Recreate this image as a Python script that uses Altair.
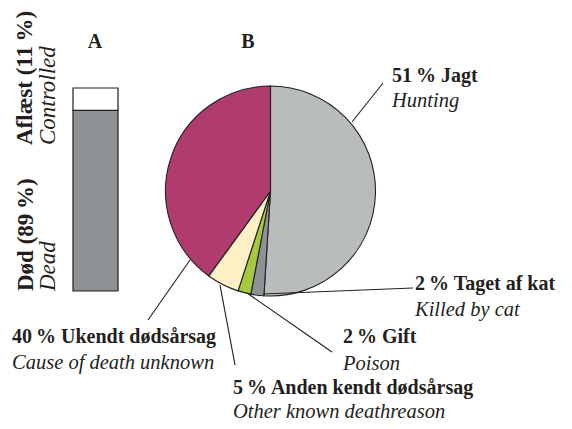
import altair as alt
import pandas as pd

# ---- data ----
pie_da = ["Jagt", "Taget af kat", "Gift", "Anden kendt dødsårsag", "Ukendt dødsårsag"]
pie_en = ["Hunting", "Killed by cat", "Poison", "Other known deathreason", "Cause of death unknown"]
pie_values = [51, 2, 2, 5, 40]
pie_colors = ["#b8bcbd", "#8d9294", "#a5c93d", "#fdf0c5", "#b03c6f"]

bar_da = ["Død", "Aflæst"]
bar_en = ["Dead", "Controlled"]
bar_values = [89, 11]
bar_colors = ["#8d9294", "#ffffff"]

panel_letters = ["A", "B"]

# ---- layout (page pixel coordinates) ----
label_x = [392, 415, 343, 233, 12]
label_y_bold = [82, 290, 343, 394, 343]
label_y_ital = [107, 316, 370, 418, 369]
lead_x1 = [352, 263, 247, 220, 190]
lead_y1 = [122, 294, 293, 285, 260]
lead_x2 = [383, 413, 332, 235, 148]
lead_y2 = [83, 288, 352, 365, 320]

bar_lbl_x_bold = [33, 32]
bar_lbl_x_ital = [55, 55]
bar_lbl_y = [291, 145]
letter_x = [95, 248]
letter_y = [48, 48]

W, H = 556, 413
FONT = "Liberation Serif"
INK = "#231f20"
px = alt.Scale(domain=[8, 8 + W], range=[0, W])
py = alt.Scale(domain=[8, 8 + H], range=[0, H])

pie_df = pd.DataFrame({"value": pie_values, "color": pie_colors, "order": list(range(len(pie_values)))})
bar_df = pd.DataFrame({"value": bar_values, "color": bar_colors})
bar_df["end"] = bar_df["value"].cumsum()
bar_df["start"] = bar_df["end"] - bar_df["value"]

lab_df = pd.DataFrame({
    "bold": [f"{v}\u2009% {n}" for v, n in zip(pie_values, pie_da)],
    "ital": pie_en,
    "x": label_x, "yb": label_y_bold, "yi": label_y_ital,
    "x1": lead_x1, "y1": lead_y1, "x2": lead_x2, "y2": lead_y2,
})
barlab_df = pd.DataFrame({
    "bold": [f"{n} ({v}\u2009%)" for v, n in zip(bar_values, bar_da)],
    "ital": bar_en,
    "xb": bar_lbl_x_bold, "xi": bar_lbl_x_ital, "y": bar_lbl_y,
})
letters_df = pd.DataFrame({"t": panel_letters, "x": letter_x, "y": letter_y})

bar = alt.Chart(bar_df).mark_rect(stroke=INK, strokeWidth=1.2).encode(
    x=alt.value(65), x2=alt.value(110),
    y=alt.Y("start:Q", scale=alt.Scale(domain=[0, 100], range=[283, 80]), axis=None),
    y2="end:Q",
    color=alt.Color("color:N", scale=None),
)

pie = alt.Chart(pie_df).mark_arc(radius=105, stroke=INK, strokeWidth=1.1).encode(
    theta=alt.Theta("value:Q", stack=True),
    color=alt.Color("color:N", scale=None),
    order=alt.Order("order:Q"),
    x=alt.value(262.5), y=alt.value(183),
)

leaders = alt.Chart(lab_df).mark_rule(color=INK, strokeWidth=1.1).encode(
    x=alt.X("x1:Q", scale=px, axis=None), y=alt.Y("y1:Q", scale=py, axis=None),
    x2="x2:Q", y2="y2:Q",
)

bold_txt = alt.Chart(lab_df).mark_text(align="left", baseline="alphabetic", font=FONT,
                                       fontSize=20, fontWeight="bold", color=INK).encode(
    x=alt.X("x:Q", scale=px, axis=None), y=alt.Y("yb:Q", scale=py, axis=None), text="bold:N")

ital_txt = alt.Chart(lab_df).mark_text(align="left", baseline="alphabetic", font=FONT,
                                       fontSize=20.5, fontStyle="italic", color=INK).encode(
    x=alt.X("x:Q", scale=px, axis=None), y=alt.Y("yi:Q", scale=py, axis=None), text="ital:N")

bar_bold = alt.Chart(barlab_df).mark_text(angle=270, align="left", baseline="alphabetic", font=FONT,
                                          fontSize=23, fontWeight="bold", color=INK).encode(
    x=alt.X("xb:Q", scale=px, axis=None), y=alt.Y("y:Q", scale=py, axis=None), text="bold:N")

bar_ital = alt.Chart(barlab_df).mark_text(angle=270, align="left", baseline="alphabetic", font=FONT,
                                          fontSize=23, fontStyle="italic", color=INK).encode(
    x=alt.X("xi:Q", scale=px, axis=None), y=alt.Y("y:Q", scale=py, axis=None), text="ital:N")

letters = alt.Chart(letters_df).mark_text(align="center", baseline="alphabetic", font=FONT,
                                          fontSize=20, fontWeight="bold", color=INK).encode(
    x=alt.X("x:Q", scale=px, axis=None), y=alt.Y("y:Q", scale=py, axis=None), text="t:N")

chart = alt.layer(bar, pie, leaders, bold_txt, ital_txt, bar_bold, bar_ital, letters).resolve_scale(
    x="independent", y="independent"
).properties(
    width=W, height=H, autosize=alt.AutoSizeParams(type="none"), padding=0
).configure_view(stroke=None)

chart.save("out.html", embed_options={"renderer": "svg", "actions": False})
